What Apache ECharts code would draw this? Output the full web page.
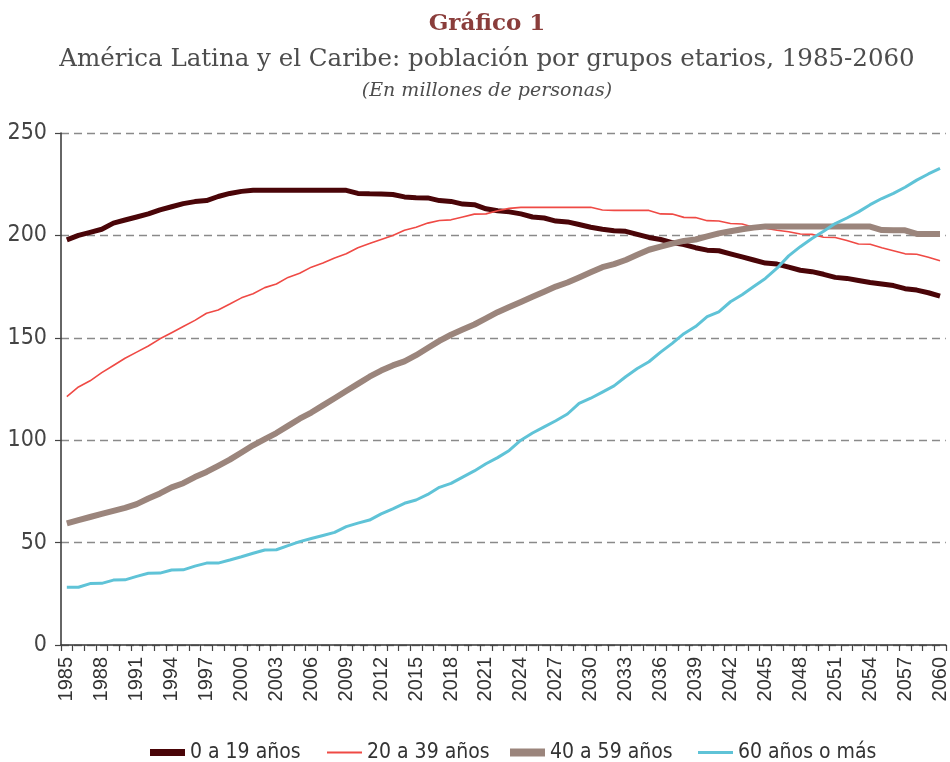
<!DOCTYPE html>
<html>
<head>
<meta charset="utf-8">
<script src="https://cdn.jsdelivr.net/npm/echarts@6/dist/echarts.min.js"></script>
<style>
    html, body {
        margin: 0;
        padding: 0;
        background: #fff;
    }
    #chart {
        width: 950px;
        height: 762px;
    }
</style>
</head>
<body>
<div id="chart"></div>
<script>
// años 1985-2060
const years = [
    '1985', '1986', '1987', '1988', '1989', '1990', '1991', '1992', '1993', '1994',
    '1995', '1996', '1997', '1998', '1999', '2000', '2001', '2002', '2003', '2004',
    '2005', '2006', '2007', '2008', '2009', '2010', '2011', '2012', '2013', '2014',
    '2015', '2016', '2017', '2018', '2019', '2020', '2021', '2022', '2023', '2024',
    '2025', '2026', '2027', '2028', '2029', '2030', '2031', '2032', '2033', '2034',
    '2035', '2036', '2037', '2038', '2039', '2040', '2041', '2042', '2043', '2044',
    '2045', '2046', '2047', '2048', '2049', '2050', '2051', '2052', '2053', '2054',
    '2055', '2056', '2057', '2058', '2059', '2060'
]

const edad0a19 = [
    197.8, 200, 201.5, 203, 206, 207.5, 209, 210.5, 212.5, 214,
    215.5, 216.5, 217, 219, 220.5, 221.5, 222, 222, 222, 222,
    222, 222, 222, 222, 222, 220.5, 220.3, 220.2, 220, 218.8,
    218.4, 218.3, 217, 216.6, 215.3, 215, 213, 212, 211.5, 210.5,
    209, 208.5, 207, 206.6, 205.3, 204, 203, 202.3, 202, 200.5,
    199, 198, 196.5, 195.5, 194, 192.8, 192.5, 191, 189.5, 188,
    186.5, 186, 184.5, 183, 182.3, 181, 179.5, 179, 178, 177,
    176.3, 175.5, 174, 173.3, 172, 170.3
]

const edad20a39 = [
    121.3, 126, 129, 133, 136.5, 140, 143, 146, 149.5, 152.5,
    155.5, 158.5, 162, 163.6, 166.5, 169.5, 171.5, 174.5, 176.3, 179.5,
    181.5, 184.5, 186.5, 189, 191, 194, 196, 198, 200, 202.5,
    204, 206, 207.3, 207.6, 209, 210.4, 210.5, 212, 213.2, 213.7,
    213.7, 213.7, 213.7, 213.7, 213.7, 213.7, 212.4, 212.2, 212.2, 212.2,
    212.2, 210.5, 210.4, 208.8, 208.7, 207.2, 207, 205.8, 205.6, 204,
    203.5, 202.5, 201.8, 200.7, 200.5, 199.1, 199, 197.5, 195.8, 195.7,
    194, 192.5, 191, 190.8, 189.3, 187.6
]

const edad40a59 = [
    59.4, 61, 62.5, 64, 65.5, 67, 68.8, 71.5, 74, 77,
    79, 82, 84.5, 87.5, 90.5, 94, 97.5, 100.5, 103.5, 107,
    110.5, 113.5, 117, 120.5, 124, 127.5, 131, 134, 136.5, 138.5,
    141.5, 145, 148.5, 151.5, 154, 156.5, 159.5, 162.5, 165, 167.5,
    170, 172.5, 175, 177, 179.5, 182, 184.5, 186, 188, 190.5,
    193, 194.5, 196, 197.3, 198, 199.5, 201, 202, 203, 203.8,
    204.3, 204.3, 204.3, 204.3, 204.3, 204.3, 204.3, 204.3, 204.3, 204.3,
    202.6, 202.5, 202.5, 200.7, 200.7, 200.7
]

const edad60mas = [
    28.2, 28.2, 30, 30.1, 31.7, 31.8, 33.5, 35, 35.1, 36.6,
    36.7, 38.5, 40, 40, 41.5, 43.1, 44.8, 46.4, 46.5, 48.5,
    50.5, 52, 53.5, 55, 57.8, 59.5, 61, 64, 66.5, 69.2,
    70.8, 73.5, 77, 78.9, 82, 85, 88.5, 91.5, 95, 100,
    103.5, 106.5, 109.5, 112.8, 118, 120.5, 123.5, 126.5, 131, 135,
    138.3, 143, 147.3, 152, 155.5, 160.3, 162.7, 167.6, 171, 175,
    179, 184, 190, 194.5, 198.5, 202, 205.8, 208.5, 211.5, 215,
    218, 220.5, 223.5, 227, 230, 232.7
]

const seriesNames = ['0 a 19 años', '20 a 39 años', '40 a 59 años', '60 años o más']
const yTicks = [0, 50, 100, 150, 200, 250]

const narrow = '"Liberation Sans Narrow", "Arial Narrow", "DejaVu Sans Condensed", sans-serif'
const serif = '"DejaVu Serif", "Liberation Serif", serif'

const colors = ['#4a0508', '#ef4a45', '#9b857c', '#5fc3d7']
const widths = [5, 1.6, 6, 3]
// alto del icono en la leyenda
const iconHeights = [7, 2, 8, 3]
const legendLeft = [145, 322, 505, 693]

const chartInstance = echarts.init(document.getElementById('chart'))

const legends = seriesNames.map((name, i) => ({
    data: [name],
    left: legendLeft[i],
    top: 737,
    itemWidth: 35,
    itemHeight: iconHeights[i],
    icon: 'rect',
    selectedMode: false,
    textStyle: {
        fontFamily: narrow,
        fontSize: 21,
        color: '#333'
    }
}))

const values = [edad0a19, edad20a39, edad40a59, edad60mas]

chartInstance.setOption({
    animation: false,
    title: [{
        text: 'Gráfico 1',
        left: 482,
        top: 8,
        textAlign: 'center',
        textStyle: {
            fontFamily: serif,
            fontSize: 23,
            fontWeight: 'bold',
            color: '#8a3d3b'
        }
    }, {
        text: 'América Latina y el Caribe: población por grupos etarios, 1985-2060',
        left: 482,
        top: 42,
        textAlign: 'center',
        textStyle: {
            fontFamily: serif,
            fontSize: 24.5,
            fontWeight: 'normal',
            color: '#4d4d4d'
        }
    }, {
        text: '(En millones de personas)',
        left: 482,
        top: 77,
        textAlign: 'center',
        textStyle: {
            fontFamily: serif,
            fontSize: 19,
            fontStyle: 'italic',
            fontWeight: 'normal',
            color: '#4d4d4d'
        }
    }],
    legend: legends,
    grid: {
        left: 61,
        right: 2,
        top: 133,
        bottom: 117,
        containLabel: false
    },
    xAxis: {
        type: 'category',
        data: years,
        boundaryGap: true,
        axisLine: {
            lineStyle: { color: '#333', width: 1.5 }
        },
        axisTick: {
            show: true,
            interval: 0,
            length: 6,
            lineStyle: { color: '#444', width: 1.2 }
        },
        axisLabel: {
            interval: 2,
            rotate: 90,
            margin: 12,
            fontFamily: '"Liberation Sans", Arial, sans-serif',
            fontSize: 20,
            color: '#333'
        },
        splitLine: { show: false }
    },
    yAxis: {
        type: 'value',
        min: yTicks[0],
        max: yTicks[yTicks.length - 1],
        interval: 50,
        axisLine: {
            show: true,
            lineStyle: { color: '#333', width: 1.5 }
        },
        axisTick: {
            show: true,
            length: 6,
            lineStyle: { color: '#444', width: 1.2 }
        },
        axisLabel: {
            margin: 14,
            fontFamily: narrow,
            fontSize: 23,
            color: '#444'
        },
        splitLine: {
            show: true,
            lineStyle: {
                color: '#8a8a8a',
                width: 1.3,
                type: [8, 5]
            }
        }
    },
    series: seriesNames.map((name, i) => ({
        name: name,
        type: 'line',
        data: values[i],
        symbol: 'none',
        smooth: false,
        itemStyle: { color: colors[i] },
        lineStyle: {
            color: colors[i],
            width: widths[i]
        }
    }))
})
</script>
</body>
</html>
